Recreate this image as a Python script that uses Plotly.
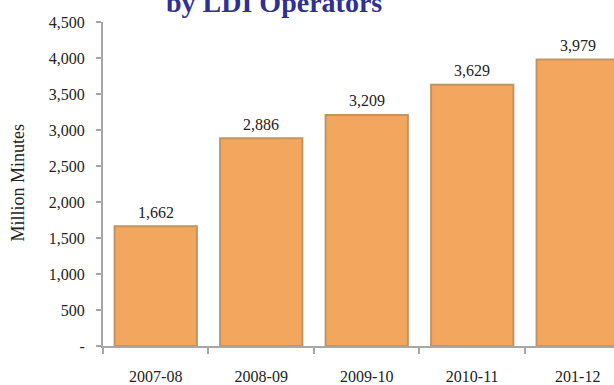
import plotly.graph_objects as go

# Fiscal years and ILD minutes carried (millions)
years = ["2007-08", "2008-09", "2009-10", "2010-11", "201-12"]
minutes = [1662, 2886, 3209, 3629, 3979]
y_ticks = [0, 500, 1000, 1500, 2000, 2500, 3000, 3500, 4000, 4500]
y_tick_text = ["-", "500", "1,000", "1,500", "2,000", "2,500", "3,000", "3,500", "4,000", "4,500"]

serif = "Liberation Serif"
ink = "#222222"
axis_grey = "#A6A6A6"

fig = go.Figure(
    go.Bar(
        x=years,
        y=minutes,
        marker=dict(color="#F2A65E", line=dict(color="#C39461", width=2)),
        hoverinfo="x+y",
    )
)

# value labels above each bar
value_labels = [
    dict(
        x=yr, y=v, xref="x", yref="y",
        text=f"{v:,}",
        showarrow=False,
        xanchor="center", yanchor="middle",
        yshift=14,
        font=dict(family=serif, size=16, color=ink),
    )
    for yr, v in zip(years, minutes)
]

fig.update_layout(
    width=614,
    height=385,
    margin=dict(l=103, r=0, t=22, b=34),
    paper_bgcolor="white",
    plot_bgcolor="white",
    bargap=0.22,
    showlegend=False,
    font=dict(family=serif, size=16, color=ink),
    xaxis=dict(
        type="category",
        range=[-0.5, 4.344],
        showline=True,
        linecolor=axis_grey,
        linewidth=2,
        ticks="outside",
        tickson="boundaries",
        ticklen=6,
        tickwidth=2,
        tickcolor=axis_grey,
        ticklabelstandoff=15,
        tickfont=dict(family=serif, size=16, color=ink),
        showgrid=False,
        zeroline=False,
    ),
    yaxis=dict(
        range=[0, 4500],
        tickvals=y_ticks,
        ticktext=y_tick_text,
        showline=True,
        linecolor=axis_grey,
        linewidth=2,
        ticks="outside",
        ticklen=5,
        tickwidth=2,
        tickcolor=axis_grey,
        ticklabelstandoff=8,
        tickfont=dict(family=serif, size=16, color=ink),
        showgrid=False,
        zeroline=False,
    ),
    annotations=value_labels + [
        dict(
            text="by LDI Operators",
            xref="paper", yref="paper",
            x=(274 - 103) / 511, y=1.0 + 20 / 329,
            xanchor="center", yanchor="middle",
            showarrow=False,
            font=dict(family=serif, size=28, color="#2E3192", weight="bold"),
        ),
        dict(
            text="Million Minutes",
            xref="paper", yref="paper",
            x=(18 - 103) / 511, y=(351 - 185) / 329,
            xanchor="center", yanchor="middle",
            textangle=-90,
            showarrow=False,
            font=dict(family=serif, size=18, color=ink),
        ),
    ],
)

fig.write_html("out.html")
